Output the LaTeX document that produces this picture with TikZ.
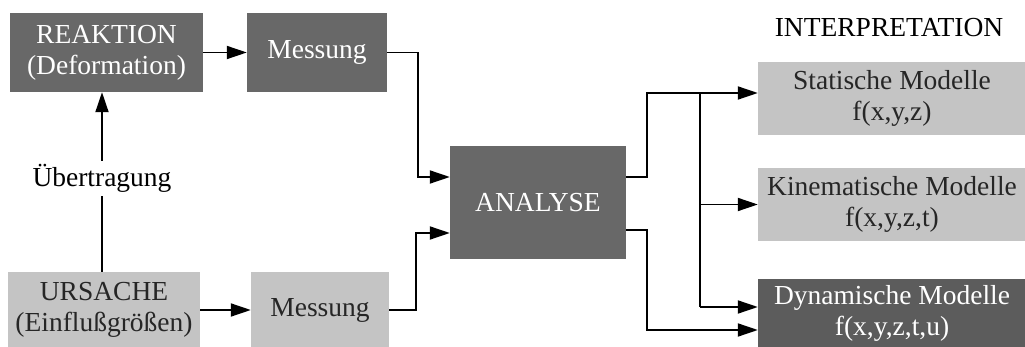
\documentclass[tikz,border=0pt]{standalone}
\usepackage{fontspec}
\setmainfont{Liberation Serif}
\usetikzlibrary{arrows.meta}
\definecolor{boxdark}{RGB}{104,104,104}
\definecolor{boxdarker}{RGB}{92,92,92}
\definecolor{boxlight}{RGB}{196,196,196}

\begin{document}
\begin{tikzpicture}[
      x=1pt, y=-1pt,
      font=\fontsize{27.5}{31}\selectfont,
      box/.style={inner sep=0pt, align=center, minimum height=79pt},
      dark/.style={box, fill=boxdark, text=white},
      light/.style={box, fill=boxlight, text=black!85},
      arr/.style={line width=1.8pt, -{Triangle[length=20pt, width=13pt]}},
      ln/.style={line width=1.8pt}
    ]
    \useasboundingbox (0,0) rectangle (1025,347);
    % left column
    \node[dark, minimum width=193pt] (reakt) at (106.5,52.5) {REAKTION\\(Deformation)};
    \node[dark, minimum width=140pt] (messo) at (317,52.5) {Messung};
    \node[light, minimum width=192pt, minimum height=76pt] (ursache) at (104,310) {URSACHE\\(Einflußgrößen)};
    \node[light, minimum width=138pt, minimum height=76pt] (messu) at (320,310) {Messung};
    \node[dark, minimum width=176pt, minimum height=113pt] (analyse) at (538,202.5) {ANALYSE};
    % interpretation column
    \node (interp) at (889,28) {INTERPRETATION};
    \node[light, minimum width=268pt, minimum height=73pt] (stat) at (892,98.5) {Statische Modelle\\f(x,y,z)};
    \node[light, minimum width=268pt, minimum height=73pt] (kin) at (892,204.5) {Kinematische Modelle\\f(x,y,z,t)};
    \node[dark, fill=boxdarker, minimum width=268pt, minimum height=68pt] (dyn) at (892,313) {Dynamische Modelle\\f(x,y,z,t,u)};

    \draw[arr] (reakt) -- (messo);
    \draw[arr] (ursache) -- (messu);
    \draw[arr] (ursache.north -| 102,0) -- (reakt.south -| 102,0)
      node[pos=0.52, fill=white, inner sep=3pt] (uebertr) {Übertragung};
    \draw[arr] (messo.east) -- ++(31,0) |- ([yshift=25.5pt]analyse.west);
    \draw[arr] (messu.east) -- ++(27,0) |- ([yshift=-30.5pt]analyse.west);

    % outputs
    \coordinate (split) at (700,93);
    \draw[arr] ([yshift=25.5pt]analyse.east) -- ++(21,0) |- ([yshift=5.5pt]stat.west);
    \draw[ln] (split) -- (700,307);
    \draw[arr] (split |- kin.west) -- (kin.west);
    \draw[arr] (700,307) -- ([yshift=6pt]dyn.west);
    \draw[arr] ([yshift=-27.5pt]analyse.east) -- ++(21,0) |- ([yshift=-17pt]dyn.west);
  \end{tikzpicture}
\end{document}
